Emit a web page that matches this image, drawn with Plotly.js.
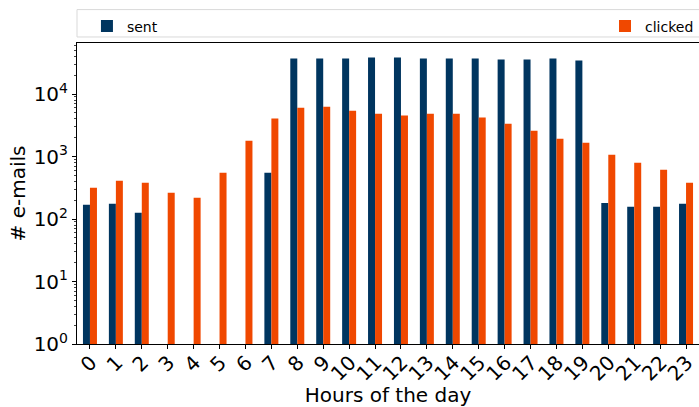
<!DOCTYPE html>
<html><head><meta charset="utf-8">
<script src="https://cdn.plot.ly/plotly-3.0.1.min.js"></script>
<style>html,body{margin:0;padding:0;background:#fff}#chart{width:699px;height:407px}</style>
</head><body><div id="chart"></div>
<script>
const hours = ["0","1","2","3","4","5","6","7","8","9","10","11","12","13","14","15","16","17","18","19","20","21","22","23"];
const sent = [169,175,126,null,null,null,null,550,36900,36900,36900,38300,38300,36900,36900,36900,35600,35600,36900,34300,181,157,157,175];
const clicked = [316,409,380,263,219,550,1790,4040,6050,6280,5420,4850,4510,4850,4850,4190,3355,2590,1930,1665,1070,795,614,380];
const yTickVals = [1,10,100,1000,10000];
const yTickText = ["10<sup>0</sup>","10<sup>1</sup>","10<sup>2</sup>","10<sup>3</sup>","10<sup>4</sup>"];

const font = "DejaVu Sans, sans-serif";
const data = [
  {type:"bar", name:"sent", x:hours, y:sent, marker:{color:"#00355f"}, legend:"legend", showlegend:true},
  {type:"bar", name:"clicked", x:hours, y:clicked, marker:{color:"#f04800"}, legend:"legend2", showlegend:true}
];
const layout = {
  width:699, height:407,
  showlegend:true,
  margin:{l:77, r:0, t:43, b:63},
  paper_bgcolor:"#fff", plot_bgcolor:"#fff",
  font:{family:font, color:"#000"},
  barmode:"group", bargap:0.46, bargroupgap:0,
  xaxis:{
    type:"category", range:[-0.5,23.5],
    showline:true, linecolor:"#000", linewidth:1, mirror:true,
    ticks:"outside", ticklen:4, tickcolor:"#000",
    tickangle:-45, tickfont:{size:20, family:font},
    ticklabelshift:1, ticklabelstandoff:-6,
    showgrid:false, zeroline:false,
    title:{text:"Hours of the day", font:{size:20, family:font}, standoff:10}
  },
  yaxis:{
    type:"log", range:[0,4.816],
    showline:true, linecolor:"#000", linewidth:1, mirror:true,
    ticks:"outside", ticklen:4, tickcolor:"#000",
    tickvals:yTickVals, ticktext:yTickText,
    tickfont:{size:20, family:font},
    minor:{ticks:"outside", ticklen:2, tickcolor:"#444", dtick:"D1", showgrid:false},
    showgrid:false, zeroline:false,
    title:{text:"# e-mails", font:{size:20, family:font}, standoff:2}
  },
  shapes:[
    {type:"rect", xref:"paper", yref:"paper", x0:0.0, x1:1.02, y0:1.02, y1:1.111,
     line:{color:"#d9d9d9", width:1}, fillcolor:"rgba(255,255,255,0.8)", layer:"below"}
  ],
  legend:{x:0.016, y:1.108, xanchor:"left", yanchor:"top", orientation:"h",
    bgcolor:"rgba(0,0,0,0)", font:{size:14, family:font}},
  legend2:{x:1.0, y:1.108, xanchor:"right", yanchor:"top", orientation:"h",
    bgcolor:"rgba(0,0,0,0)", font:{size:14, family:font}}
};
Plotly.newPlot("chart", data, layout, {displayModeBar:false, staticPlot:true});
</script></body></html>
